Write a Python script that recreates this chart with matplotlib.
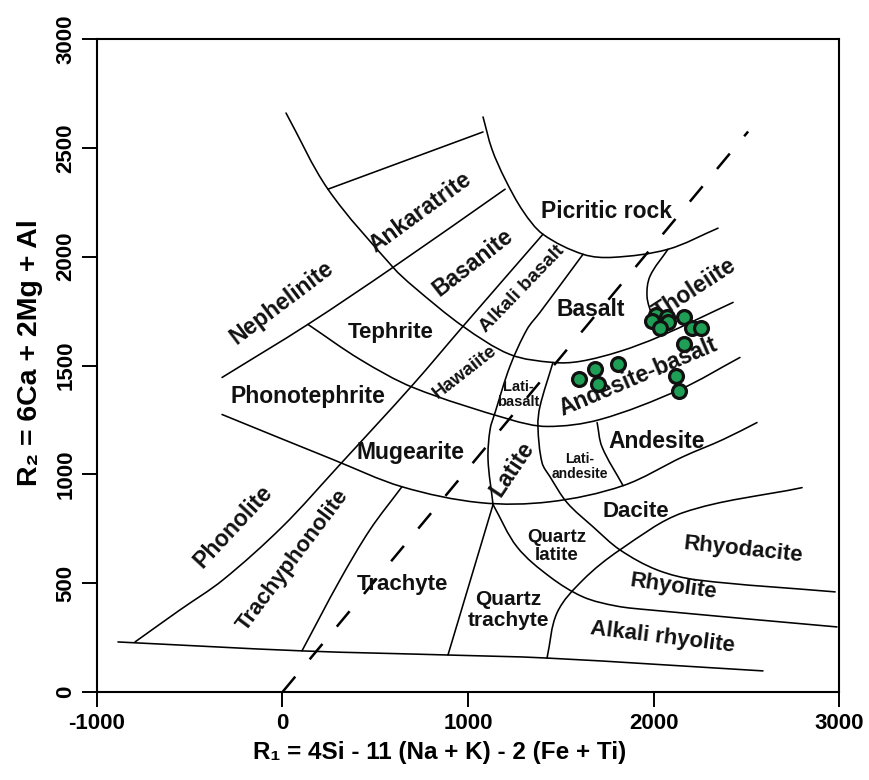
import math
import matplotlib.pyplot as plt
from matplotlib.path import Path
from matplotlib.patches import PathPatch

plt.rcParams['font.family'] = ['Liberation Sans', 'DejaVu Sans']
plt.rcParams['font.weight'] = 'bold'
plt.rcParams['axes.unicode_minus'] = False
narrow = ['Liberation Sans Narrow', 'Liberation Sans', 'DejaVu Sans']

# field boundaries of the R1-R2 diagram, (R1, R2) pairs
base_line = [(-887, 230), (105, 189), (892, 170), (1426, 156), (2590, 97)]
phonolite_ray = [(-795, 230), (-553, 377), (-321, 515), (0, 760), (299, 1035),
                 (704, 1413), (973, 1680), (1404, 2103)]
trachyte_line = [(105, 189), (310, 515), (472, 746), (644, 943)]
qtz_trachyte_line = [(892, 170), (1135, 861)]
latite_line = [(1620, 2011), (1388, 1744), (1318, 1666), (1226, 1496), (1146, 1284),
               (1119, 1206), (1108, 1068), (1135, 861)]
qtz_latite_arc = [(1135, 861), (1264, 667), (1442, 529), (1620, 437), (1800, 395),
                  (1981, 377), (2989, 299)]
rhyolite_line = [(1426, 156), (1480, 364), (1620, 515), (1819, 653), (2159, 824),
                 (2801, 939)]
dacite_line = [(1458, 1514), (1388, 1312), (1377, 1220), (1399, 1054), (1442, 989),
               (1534, 870), (1674, 759), (1819, 653), (2019, 561), (2235, 515),
               (2979, 460)]
andesite_line = [(1696, 1238), (1722, 1127), (1836, 948)]
arc_a = [(19, 2660), (245, 2310), (596, 1951), (704, 1864), (973, 1680),
         (1226, 1551), (1458, 1514), (1604, 1519), (1819, 1565), (2035, 1634),
         (2429, 1790)]
arc_b = [(137, 1689), (418, 1528), (704, 1399), (1226, 1252), (1426, 1220),
         (1712, 1252), (2143, 1390), (2466, 1537)]
arc_c = [(-326, 1275), (272, 1068), (644, 943), (1065, 870), (1442, 874),
         (1836, 948), (2159, 1081), (2375, 1160), (2558, 1238)]
nephelinite_line = [(-326, 1445), (137, 1689), (596, 1951), (1200, 2310)]
ankaratrite_line = [(245, 2310), (1081, 2573)]
picrite_arc = [(1081, 2642), (1129, 2494), (1200, 2356), (1297, 2209), (1404, 2103),
               (1620, 2011), (1782, 1997), (2078, 2034), (2348, 2131)]
tholeiite_line = [(2078, 2034), (1981, 1910), (1965, 1818), (1992, 1726), (2019, 1640)]

boundaries = [base_line, phonolite_ray, trachyte_line, qtz_trachyte_line, latite_line,
              qtz_latite_arc, rhyolite_line, dacite_line, andesite_line, arc_a, arc_b,
              arc_c, nephelinite_line, ankaratrite_line, picrite_arc, tholeiite_line]

# alkaline / subalkaline divide (dashed)
divide_r1 = [0, 2510]
divide_r2 = [0, 2575]

# samples
sample_r1 = [2014, 2073, 1992, 2078, 2035, 2165, 2208, 2256, 2165, 1809, 1685, 1598,
             1701, 2121, 2138]
sample_r2 = [1730, 1721, 1703, 1698, 1671, 1721, 1671, 1671, 1601, 1509, 1482, 1440,
             1417, 1454, 1385]

# field names: text, R1, R2, angle, font size
fields = [
    ("Nephelinite", -3, 1790, 37, 16.5),
    ("Ankaratrite", 741, 2204, 36, 16.5),
    ("Basanite", 1027, 1974, 38, 16.5),
    ("Alkali basalt", 1291, 1850, 46, 14),
    ("Picritic rock", 1744, 2209, 0, 16.5),
    ("Basalt", 1663, 1758, 0, 16.5),
    ("Tholeiite", 2220, 1850, 33, 16.5),
    ("Tephrite", 585, 1652, 0, 16),
    ("Hawaiite", 984, 1468, 38, 13.5),
    ("Lati-\nbasalt", 1270, 1367, 0, 10.5),
    ("Andesite-basalt", 1917, 1450, 23, 16.5),
    ("Phonotephrite", 137, 1358, 0, 16.5),
    ("Mugearite", 688, 1100, 0, 16.5),
    ("Latite", 1237, 1022, 56, 16.5),
    ("Lati-\nandesite", 1604, 1035, 0, 10),
    ("Andesite", 2019, 1150, 0, 16.5),
    ("Dacite", 1906, 828, 0, 16),
    ("Quartz\nlatite", 1480, 667, 0, 13.5),
    ("Rhyodacite", 2483, 653, -6, 16),
    ("Rhyolite", 2105, 483, -8, 16),
    ("Alkali rhyolite", 2046, 253, -7, 16),
    ("Quartz\ntrachyte", 1216, 377, 0, 15),
    ("Trachyte", 644, 492, 0, 16),
    ("Trachyphonolite", 57, 607, 53, 16),
    ("Phonolite", -267, 759, 47, 16.5),
]


def smooth_path(pts):
    # smooth curve through the read points (cubic Bezier, tangents from neighbours)
    n = len(pts)
    if n < 3:
        return Path(pts)

    def tangent(i):
        a = pts[max(i - 1, 0)]
        b = pts[min(i + 1, n - 1)]
        dx, dy = b[0] - a[0], b[1] - a[1]
        d = math.hypot(dx, dy)
        return dx / d, dy / d

    verts = [pts[0]]
    codes = [Path.MOVETO]
    for i in range(n - 1):
        p1, p2 = pts[i], pts[i + 1]
        seg = math.hypot(p2[0] - p1[0], p2[1] - p1[1]) / 3
        t1, t2 = tangent(i), tangent(i + 1)
        verts += [(p1[0] + t1[0] * seg, p1[1] + t1[1] * seg),
                  (p2[0] - t2[0] * seg, p2[1] - t2[1] * seg), p2]
        codes += [Path.CURVE4] * 3
    return Path(verts, codes)


fig = plt.figure(figsize=(8.69, 7.80), dpi=100)
ax = fig.add_axes([0.1116, 0.1128, 0.8539, 0.8372])

for line in boundaries:
    ax.add_patch(PathPatch(smooth_path(line), fill=False, edgecolor='black',
                           lw=1.15, capstyle='round'))

ax.plot(divide_r1, divide_r2, color='black', lw=1.8, dashes=(8, 9))

ax.scatter(sample_r1, sample_r2, s=100, facecolor='#1f9e55', edgecolor='#111111',
           linewidth=2.3, zorder=5)

for text, r1, r2, ang, size in fields:
    ax.text(r1, r2, text, rotation=ang, fontsize=size, ha='center', va='center',
            rotation_mode='anchor', linespacing=1.1, color='#111111')

ax.set_xlim(-1000, 3000)
ax.set_ylim(0, 3000)
ax.set_xticks([-1000, 0, 1000, 2000, 3000])
ax.set_yticks([0, 500, 1000, 1500, 2000, 2500, 3000])
ax.tick_params(direction='out', length=11, width=1.4, labelsize=16, pad=4)
ax.tick_params(axis='y', labelrotation=90)
for lab in ax.get_yticklabels():
    lab.set_va('center')
    lab.set_family(narrow)
for lab in ax.get_xticklabels():
    lab.set_family(narrow)
for sp in ax.spines.values():
    sp.set_linewidth(1.5)

fig.text(440 / 869, 1 - 752 / 780, "R\u2081 = 4Si - 11 (Na + K) - 2 (Fe + Ti)",
         fontsize=17.5, ha='center', va='center', family=narrow)
fig.text(30 / 869, 1 - 353 / 780, "R\u2082 = 6Ca + 2Mg + Al", rotation=90,
         fontsize=20.5, ha='center', va='center')

fig.savefig('out.png', dpi=100)
